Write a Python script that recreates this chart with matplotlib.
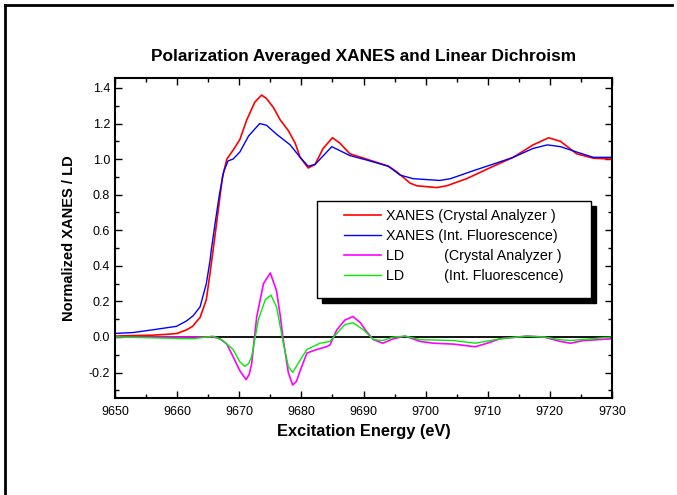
import matplotlib
matplotlib.use("Agg")
from matplotlib import pyplot as plt
from matplotlib.lines import Line2D
from matplotlib.patches import Rectangle
from matplotlib.ticker import MultipleLocator, FormatStrFormatter

plt.rcParams['font.family'] = ['Liberation Sans', 'DejaVu Sans']

# XANES, crystal analyzer (red)
e_xca = [9650, 9653, 9656, 9658.4, 9660, 9661.5, 9662.5, 9663.1, 9663.7, 9664.7, 9665.3,
         9665.8, 9666.5, 9667.3, 9668.0, 9669.0, 9670.1, 9671.2, 9672.5, 9673.6, 9674.4,
         9675.5, 9676.6, 9677.9, 9679.0, 9679.8, 9681.1, 9682.2, 9683.5, 9685.0, 9686.2,
         9687.8, 9690.5, 9694.0, 9695.3, 9697.5, 9698.6, 9701.8, 9703.4, 9706.6, 9710.9,
         9714.1, 9717.3, 9719.8, 9721.7, 9724.3, 9727.0, 9730]
xanes_ca = [0.005, 0.008, 0.01, 0.015, 0.02, 0.04, 0.06, 0.086, 0.11, 0.21, 0.36,
            0.49, 0.68, 0.90, 1.00, 1.05, 1.11, 1.22, 1.32, 1.36, 1.34,
            1.29, 1.22, 1.16, 1.09, 1.01, 0.95, 0.97, 1.06, 1.12, 1.09,
            1.03, 1.00, 0.96, 0.93, 0.865, 0.85, 0.84, 0.85, 0.89, 0.96,
            1.01, 1.08, 1.12, 1.10, 1.03, 1.005, 1.00]

# XANES, integrated fluorescence (blue)
e_xif = [9650, 9652.9, 9656, 9659.9, 9661.5, 9662.6, 9663.7, 9664.7, 9665.3, 9665.5,
         9666.2, 9666.8, 9667.5, 9668.2, 9669.0, 9670.1, 9671.5, 9673.3, 9674.4, 9676.0,
         9678.2, 9679.8, 9681.1, 9682.2, 9684.9, 9687.8, 9690.5, 9694.0, 9695.9, 9698.0,
         9702.3, 9704, 9707.7, 9712.0, 9714.1, 9717.3, 9719.6, 9721.7, 9724.3, 9727.0, 9730]
xanes_if = [0.02, 0.025, 0.04, 0.06, 0.09, 0.12, 0.17, 0.30, 0.43, 0.49,
            0.66, 0.80, 0.93, 0.99, 1.00, 1.04, 1.13, 1.20, 1.19, 1.14,
            1.08, 1.01, 0.96, 0.97, 1.07, 1.02, 0.995, 0.96, 0.91, 0.89,
            0.88, 0.89, 0.935, 0.985, 1.01, 1.06, 1.08, 1.07, 1.04, 1.01, 1.01]

# LD, crystal analyzer (magenta)
e_ldca = [9650, 9660, 9665.8, 9666.9, 9668, 9669.0, 9670.1, 9671.1, 9671.6, 9672.0,
          9672.8, 9673.9, 9675.0, 9676.0, 9676.6, 9677.1, 9677.9, 9678.6, 9679.2, 9679.8,
          9680.9, 9682.5, 9684.0, 9684.6, 9685.7, 9687.0, 9688.3, 9689.5, 9690.5, 9691.6,
          9693.1, 9694.8, 9696.7, 9699.1, 9701.3, 9704.5, 9708.0, 9709.9, 9712.0, 9716.3,
          9719.0, 9721.7, 9723.3, 9725.4, 9730]
ld_ca = [0.0, 0.0, 0.0, -0.01, -0.04, -0.11, -0.19, -0.24, -0.21, -0.15,
         0.11, 0.30, 0.36, 0.26, 0.12, -0.02, -0.20, -0.27, -0.25, -0.19,
         -0.09, -0.07, -0.055, -0.045, 0.04, 0.095, 0.115, 0.08, 0.03, -0.015,
         -0.035, -0.01, 0.005, -0.025, -0.035, -0.04, -0.055, -0.035, -0.01, 0.005,
         0.0, -0.025, -0.035, -0.02, -0.01]

# LD, integrated fluorescence (green)
e_ldif = [9650, 9662.6, 9665.8, 9667.4, 9669.0, 9670.1, 9670.9, 9671.5, 9672.0, 9673.1,
          9674.2, 9675.1, 9676.0, 9677.1, 9677.9, 9678.6, 9679.8, 9680.9, 9683.0, 9684.6,
          9685.7, 9687.0, 9688.3, 9690.0, 9691.6, 9693.1, 9694.8, 9696.7, 9699.1, 9704.5,
          9708.0, 9712.0, 9716.3, 9719.0, 9721.7, 9723.3, 9730]
ld_if = [0.0, -0.01, 0.005, -0.02, -0.07, -0.14, -0.165, -0.15, -0.11, 0.10,
         0.21, 0.235, 0.17, -0.035, -0.165, -0.20, -0.13, -0.07, -0.035, -0.025,
         0.02, 0.07, 0.08, 0.04, -0.015, -0.02, 0.0, 0.005, -0.015, -0.02,
         -0.035, -0.01, 0.005, 0.0, -0.015, -0.02, 0.0]

labels = ["XANES (Crystal Analyzer )", "XANES (Int. Fluorescence)",
          "LD          (Crystal Analyzer )", "LD          (Int. Fluorescence)"]

fig = plt.figure(figsize=(6.77, 4.95), dpi=100)
ax = fig.add_axes([115/677, 1-398/495, 497/677, 320/495])

ax.axhline(0, color='black', lw=1.3, zorder=1)
l1, = ax.plot(e_xca, xanes_ca, color='#ff0000', lw=1.2)
l2, = ax.plot(e_xif, xanes_if, color='#0000ff', lw=1.0)
l3, = ax.plot(e_ldca, ld_ca, color='#ff00ff', lw=1.2)
l4, = ax.plot(e_ldif, ld_if, color='#00ee00', lw=1.0)

ax.set_xlim(9650, 9730)
ax.set_ylim(-0.343, 1.456)
ax.xaxis.set_major_locator(MultipleLocator(10))
ax.xaxis.set_minor_locator(MultipleLocator(5))
ax.yaxis.set_major_locator(MultipleLocator(0.2))
ax.yaxis.set_minor_locator(MultipleLocator(0.1))
ax.yaxis.set_major_formatter(FormatStrFormatter('%.1f'))
ax.tick_params(which='both', direction='in', top=True, right=True, labelsize=9)
ax.tick_params(axis='x', pad=6)
ax.tick_params(which='major', length=5, width=1)
ax.tick_params(which='minor', length=3, width=1)
for s in ax.spines.values():
    s.set_linewidth(1.5)

ax.set_title("Polarization Averaged XANES and Linear Dichroism",
             fontsize=12.4, fontweight='bold', pad=12)
ax.set_xlabel("Excitation Energy (eV)", fontsize=11.8, fontweight='bold', labelpad=4)
ax.set_ylabel("Normalized XANES / LD", fontsize=10.5, fontweight='bold', labelpad=9)

# legend box with hard shadow
ax.add_patch(Rectangle((0.416, 0.297), 0.552, 0.303, transform=ax.transAxes,
                       facecolor='black', edgecolor='black', zorder=5))
ax.add_patch(Rectangle((0.406, 0.3125), 0.552, 0.303, transform=ax.transAxes,
                       facecolor='white', edgecolor='black', lw=1.0, zorder=6))
leg = ax.legend([l1, l2, l3, l4], labels, loc='upper left',
                bbox_to_anchor=((344-115)/497, (398-209)/320),
                frameon=False, fontsize=10.3, borderpad=0, borderaxespad=0,
                handlelength=2.6, handletextpad=0.35, labelspacing=0.42)
leg.set_zorder(7)

# outer frame lines
fig.add_artist(Line2D([5/677, 5/677], [0, 1-5/495], color='black', lw=2))
fig.add_artist(Line2D([5/677, 672/677], [1-5/495, 1-5/495], color='black', lw=2))

fig.savefig("out.png", dpi=100)
